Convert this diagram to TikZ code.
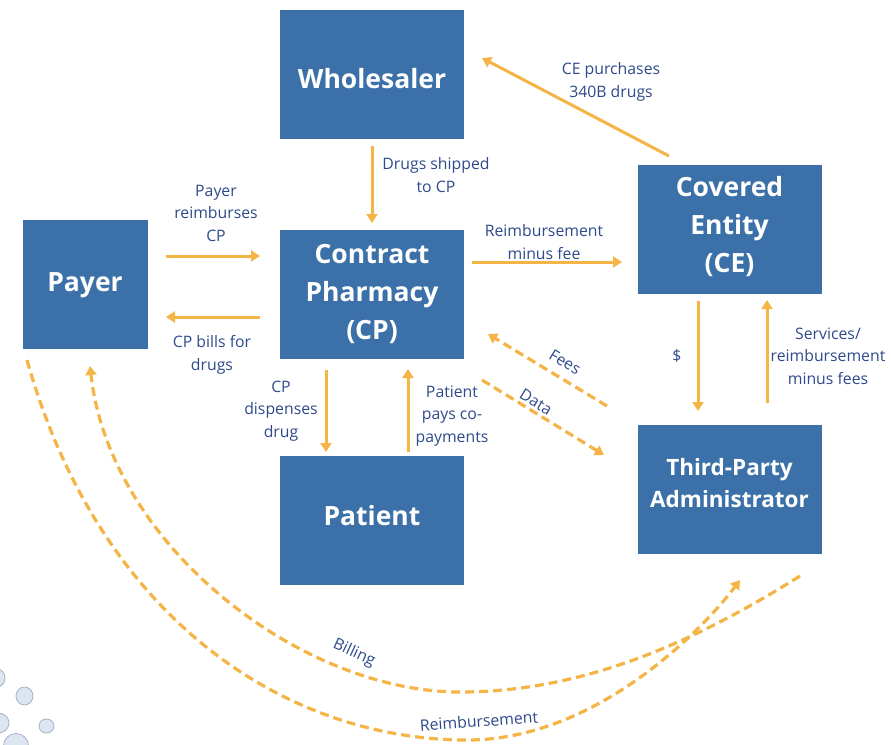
\documentclass[tikz,border=0pt]{standalone}
\usepackage{fontspec}
\setmainfont{Open Sans}
\usetikzlibrary{arrows.meta,calc}
\definecolor{boxblue}{RGB}{59,113,168}
\definecolor{arrowor}{RGB}{244,180,70}
\definecolor{txtblue}{RGB}{46,74,138}
\definecolor{dotfill}{RGB}{220,230,242}
\definecolor{dotline}{RGB}{165,176,192}
\newcommand{\shiftv}[2]{\raisebox{#1}[\height][\depth]{#2}}
\newcommand{\stackc}[1]{\begin{tabular}{@{}c@{}}#1\end{tabular}}
\begin{document}
\begin{tikzpicture}[x=1pt,y=-1pt,
  box/.style={fill=boxblue, draw=none, text=white, align=center, inner sep=0pt,
    minimum width=184pt, minimum height=129pt,
    font=\bfseries\fontsize{26.5}{38}\selectfont},
  lbl/.style={text=txtblue, align=center, inner sep=0pt,
    font=\fontsize{15.8}{22.5}\selectfont},
  flow/.style={draw=arrowor, line width=3pt, -{Triangle[width=11pt,length=9pt]}},
  dflow/.style={draw=arrowor, line width=3.2pt, dash pattern=on 9pt off 5pt,
    -{Triangle[width=11pt,length=9pt]}},
  dot/.style={fill=dotfill, draw=dotline, line width=0.8pt}
]
\useasboundingbox (0,0) rectangle (891,744);

% boxes
\node[box] (wh) at (372,74) {\shiftv{-5pt}{Wholesaler}};
\node[box, minimum width=125pt] (pay) at (85,284) {\shiftv{-1pt}{Payer}};
\node[box] (cp) at (372,294) {Contract\\Pharmacy\\(CP)};
\node[box] (ce) at (729.5,229.5) {\shiftv{3pt}{\stackc{Covered\\Entity\\(CE)}}};
\node[box] (pat) at (372,520) {\shiftv{4pt}{Patient}};
\node[box, font=\bfseries\fontsize{22.5}{32}\selectfont] (tpa) at (729.5,489) {\shiftv{4pt}{\stackc{Third-Party\\Administrator}}};

% connector end points
\coordinate (whS) at (372,146);
\coordinate (cpN) at (372,223);
\coordinate (ceW1) at (669,156);
\coordinate (whE) at (482,58);
\coordinate (payE1) at (166,256);
\coordinate (cpW1) at (260,256);
\coordinate (cpW2) at (260,317);
\coordinate (payE2) at (166,317);
\coordinate (cpE) at (472,262);
\coordinate (ceW) at (622,262);
\coordinate (cpS1) at (326,370);
\coordinate (patN1) at (326,452);
\coordinate (patN2) at (408,452);
\coordinate (cpS2) at (408,369);
\coordinate (ceS1) at (698,301);
\coordinate (tpaN1) at (698,411);
\coordinate (tpaN2) at (767,403);
\coordinate (ceS2) at (767,300);
\coordinate (tpaW1) at (607,406);
\coordinate (cpE1) at (488,334);
\coordinate (cpE2) at (482,380);
\coordinate (tpaW2) at (604,455);
\coordinate (payS1) at (27,360);
\coordinate (tpaS1) at (740,580);
\coordinate (tpaS2) at (800,576);
\coordinate (payS2) at (90,366);

% solid arrows
\draw[flow] (whS) -- (cpN);
\draw[flow] (ceW1) -- (whE);
\draw[flow] (payE1) -- (cpW1);
\draw[flow] (cpW2) -- (payE2);
\draw[flow] (cpE) -- (ceW);
\draw[flow] (cpS1) -- (patN1);
\draw[flow] (patN2) -- (cpS2);
\draw[flow] (ceS1) -- (tpaN1);
\draw[flow] (tpaN2) -- (ceS2);

% dashed arrows
\draw[dflow] (tpaW1) -- (cpE1);
\draw[dflow] (cpE2) -- (tpaW2);
\draw[dflow] (payS1) .. controls (100,620) and (287,740) .. (467,740)
   .. controls (597,740) and (704,628) .. (tpaS1);
\draw[dflow] (tpaS2) .. controls (690,645) and (580,692) .. (460,692)
   .. controls (300,692) and (110,545) .. (payS2);

% labels
\node[lbl] (l1) at (436,175) {Drugs shipped\\to CP};
\node[lbl] (l2) at (611,82) {CE purchases\\340B drugs};
\node[lbl] (l3) at (216,213) {Payer\\reimburses\\CP};
\node[lbl] (l4) at (212,355) {CP bills for\\drugs};
\node[lbl] (l5) at (544,242) {Reimbursement\\minus fee};
\node[lbl] (l6) at (281,411) {CP\\dispenses\\drug};
\node[lbl] (l7) at (452,416) {Patient\\pays co-\\payments};
\node[lbl] (l8) at (677,356) {\$};
\node[lbl] (l9) at (828,356) {Services/\\reimbursement\\minus fees};
\node[lbl, rotate=-31] (l10) at (565,362) {Fees};
\node[lbl, rotate=-31] (l11) at (536,402) {Data};
\node[lbl, rotate=-25] (l12) at (354,653) {Billing};
\node[lbl, rotate=4] (l13) at (479,721) {Reimbursement};

% decorative dots
\begin{scope}
\clip (0,0) rectangle (891,744);
\draw[dot] (-3,678) ellipse [x radius=8pt, y radius=9pt];
\draw[dot] (24.5,696) ellipse [x radius=8.5pt, y radius=9pt];
\draw[dot] (-2,723) ellipse [x radius=11pt, y radius=10pt];
\draw[dot] (46.5,726) ellipse [x radius=7.5pt, y radius=7pt];
\draw[dot] (16,746) ellipse [x radius=12.5pt, y radius=12.5pt];
\end{scope}
\end{tikzpicture}
\end{document}
